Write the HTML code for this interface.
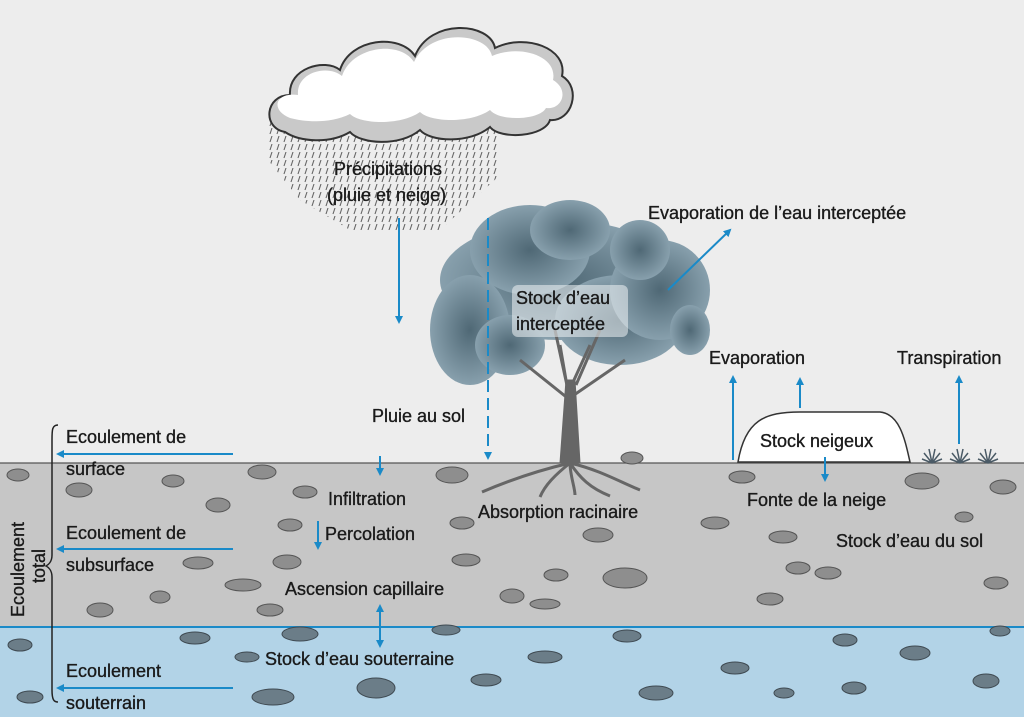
<!DOCTYPE html>
<html><head><meta charset="utf-8"><style>
body{margin:0;width:1024px;height:717px;overflow:hidden;background:#ededed}
svg{display:block}
text{font-family:"Liberation Sans",sans-serif;font-size:18px;fill:#1a1a1a;stroke:#1a1a1a;stroke-width:0.35}
</style></head><body>
<svg width="1024" height="717" viewBox="0 0 1024 717">
<defs>
<marker id="a" markerWidth="8" markerHeight="8" refX="6" refY="4" orient="auto" markerUnits="userSpaceOnUse"><path d="M0,0 L8,4 L0,8z" fill="#1a8ac8"/></marker>
<pattern id="rain" width="7" height="8" patternUnits="userSpaceOnUse"><path d="M6,0 L4,6" stroke="#666" stroke-width="1.1"/></pattern>
<radialGradient id="leaf" cx="50%" cy="50%" r="60%"><stop offset="0" stop-color="#4f6875"/><stop offset="1" stop-color="#93abb8"/></radialGradient>
</defs>
<rect width="1024" height="717" fill="#ededed"/>
<rect y="463" width="1024" height="164" fill="#c6c6c6"/>
<line x1="0" y1="463" x2="1024" y2="463" stroke="#555" stroke-width="1.2"/>
<rect y="627" width="1024" height="90" fill="#b2d3e7"/>
<line x1="0" y1="627" x2="1024" y2="627" stroke="#1a8ac8" stroke-width="2"/>
<g fill="#8e8e8e" stroke="#555" stroke-width="1">
<ellipse cx="18" cy="475" rx="11" ry="6"/><ellipse cx="173" cy="481" rx="11" ry="6"/><ellipse cx="79" cy="490" rx="13" ry="7"/><ellipse cx="262" cy="472" rx="14" ry="7"/><ellipse cx="305" cy="492" rx="12" ry="6"/><ellipse cx="218" cy="505" rx="12" ry="7"/><ellipse cx="290" cy="525" rx="12" ry="6"/><ellipse cx="198" cy="563" rx="15" ry="6"/><ellipse cx="160" cy="597" rx="10" ry="6"/><ellipse cx="100" cy="610" rx="13" ry="7"/><ellipse cx="243" cy="585" rx="18" ry="6"/><ellipse cx="270" cy="610" rx="13" ry="6"/><ellipse cx="287" cy="562" rx="14" ry="7"/><ellipse cx="452" cy="475" rx="16" ry="8"/><ellipse cx="462" cy="523" rx="12" ry="6"/><ellipse cx="466" cy="560" rx="14" ry="6"/><ellipse cx="512" cy="596" rx="12" ry="7"/><ellipse cx="632" cy="458" rx="11" ry="6"/><ellipse cx="742" cy="477" rx="13" ry="6"/><ellipse cx="922" cy="481" rx="17" ry="8"/><ellipse cx="1003" cy="487" rx="13" ry="7"/><ellipse cx="715" cy="523" rx="14" ry="6"/><ellipse cx="964" cy="517" rx="9" ry="5"/><ellipse cx="598" cy="535" rx="15" ry="7"/><ellipse cx="783" cy="537" rx="14" ry="6"/><ellipse cx="798" cy="568" rx="12" ry="6"/><ellipse cx="625" cy="578" rx="22" ry="10"/><ellipse cx="828" cy="573" rx="13" ry="6"/><ellipse cx="996" cy="583" rx="12" ry="6"/><ellipse cx="770" cy="599" rx="13" ry="6"/><ellipse cx="545" cy="604" rx="15" ry="5"/><ellipse cx="556" cy="575" rx="12" ry="6"/>
</g>
<g fill="#6b7d88" stroke="#3f4a52" stroke-width="1">
<ellipse cx="20" cy="645" rx="12" ry="6"/><ellipse cx="195" cy="638" rx="15" ry="6"/><ellipse cx="300" cy="634" rx="18" ry="7"/><ellipse cx="247" cy="657" rx="12" ry="5"/><ellipse cx="30" cy="697" rx="13" ry="6"/><ellipse cx="273" cy="697" rx="21" ry="8"/><ellipse cx="376" cy="688" rx="19" ry="10"/><ellipse cx="486" cy="680" rx="15" ry="6"/><ellipse cx="446" cy="630" rx="14" ry="5"/><ellipse cx="545" cy="657" rx="17" ry="6"/><ellipse cx="627" cy="636" rx="14" ry="6"/><ellipse cx="656" cy="693" rx="17" ry="7"/><ellipse cx="735" cy="668" rx="14" ry="6"/><ellipse cx="854" cy="688" rx="12" ry="6"/><ellipse cx="845" cy="640" rx="12" ry="6"/><ellipse cx="915" cy="653" rx="15" ry="7"/><ellipse cx="986" cy="681" rx="13" ry="7"/><ellipse cx="1000" cy="631" rx="10" ry="5"/><ellipse cx="784" cy="693" rx="10" ry="5"/>
</g>
<path d="M268,115 L495,105 L500,175 L440,230 L350,230 L300,200 L268,160z" fill="url(#rain)"/>
<path d="M285,132 C262,128 265,95 290,95 C288,68 325,58 340,70 C350,38 400,33 415,56 C430,18 490,22 495,48 C525,33 568,48 562,76 C582,88 572,122 550,120 C545,137 500,140 490,127 C470,144 430,142 420,130 C400,147 360,144 350,132 C330,144 300,142 285,132z" fill="#c9c9c9" stroke="#333" stroke-width="2"/>
<path d="M290,118 C270,110 275,92 298,95 C296,72 328,64 342,76 C352,46 400,40 414,62 C430,28 487,32 492,56 C520,44 558,56 553,80 C570,90 562,110 546,108 C540,120 500,122 490,110 C470,124 430,122 420,112 C400,126 360,124 350,114 C330,124 305,122 290,118z" fill="#fff"/>
<path d="M738,462 C745,420 765,412 800,412 L880,412 C900,414 905,440 910,462z" fill="#fff" stroke="#333" stroke-width="1.5"/>
<g stroke="#4a5a66" stroke-width="1.5" fill="none">
<path d="M932,463 l-8,-10 M932,463 l-3,-14 M932,463 l3,-14 M932,463 l8,-10 M932,463 l-10,-4 M932,463 l10,-4"/>
<path d="M960,463 l-8,-10 M960,463 l-3,-14 M960,463 l3,-14 M960,463 l8,-10 M960,463 l-10,-4 M960,463 l10,-4"/>
<path d="M988,463 l-8,-10 M988,463 l-3,-14 M988,463 l3,-14 M988,463 l8,-10 M988,463 l-10,-4 M988,463 l10,-4"/>
</g>
<g fill="url(#leaf)">
<ellipse cx="560" cy="280" rx="120" ry="60"/><ellipse cx="470" cy="330" rx="40" ry="55"/><ellipse cx="530" cy="250" rx="60" ry="45"/><ellipse cx="620" cy="320" rx="65" ry="45"/><ellipse cx="660" cy="290" rx="50" ry="50"/><ellipse cx="570" cy="230" rx="40" ry="30"/><ellipse cx="510" cy="345" rx="35" ry="30"/><ellipse cx="640" cy="250" rx="30" ry="30"/><ellipse cx="690" cy="330" rx="20" ry="25"/>
</g>
<g fill="#666" stroke="#666">
<path d="M566,380 L560,345 M574,380 L590,345 M570,400 L520,360 M574,395 L625,360 M568,390 L555,330 M576,385 L600,330" stroke-width="3" fill="none"/>
<path d="M560,463 L580,463 L575,380 L566,380z"/>
<path d="M570,463 C540,470 510,480 482,492 M570,463 C555,475 545,485 540,497 M570,463 C580,478 590,488 610,496 M570,463 C600,470 620,482 640,490 M570,463 C570,475 575,488 575,495" stroke-width="3" fill="none"/>
</g>
<rect x="512" y="285" width="116" height="52" rx="6" fill="#eef2f4" opacity="0.55"/>
<g stroke="#1a8ac8" stroke-width="2" fill="none" marker-end="url(#a)">
<line x1="399" y1="218" x2="399" y2="322"/>
<line x1="488" y1="218" x2="488" y2="458" stroke-dasharray="12,6"/>
<line x1="380" y1="456" x2="380" y2="474"/>
<line x1="318" y1="521" x2="318" y2="548"/>
<line x1="668" y1="290" x2="730" y2="230"/>
<line x1="733" y1="460" x2="733" y2="377"/>
<line x1="800" y1="408" x2="800" y2="379"/>
<line x1="959" y1="444" x2="959" y2="377"/>
<line x1="825" y1="457" x2="825" y2="480"/>
<line x1="233" y1="454" x2="58" y2="454"/>
<line x1="233" y1="549" x2="58" y2="549"/>
<line x1="233" y1="688" x2="58" y2="688"/>
<line x1="380" y1="608" x2="380" y2="645" marker-end="none"/>
</g>
<path d="M380,604 L376,612 L384,612z M380,648 L376,640 L384,640z" fill="#1a8ac8"/>
<path d="M58,425 C52,425 52,430 52,440 L52,555 C52,562 48,565 46,566 C48,567 52,570 52,577 L52,690 C52,700 54,702 58,702" stroke="#222" stroke-width="1.5" fill="none"/>
<text transform="translate(24,617) rotate(-90)" font-size="19">Ecoulement</text>
<text transform="translate(45,583) rotate(-90)" font-size="19">total</text>
<text x="66" y="443">Ecoulement de</text>
<text x="66" y="475">surface</text>
<text x="66" y="539">Ecoulement de</text>
<text x="66" y="571">subsurface</text>
<text x="66" y="677">Ecoulement</text>
<text x="66" y="709">souterrain</text>
<text x="334" y="175">Précipitations</text>
<text x="327" y="201">(pluie et neige)</text>
<text x="372" y="422">Pluie au sol</text>
<text x="328" y="505">Infiltration</text>
<text x="325" y="540">Percolation</text>
<text x="285" y="595">Ascension capillaire</text>
<text x="265" y="665">Stock d’eau souterraine</text>
<text x="478" y="518">Absorption racinaire</text>
<text x="516" y="304">Stock d’eau</text>
<text x="516" y="330">interceptée</text>
<text x="648" y="219">Evaporation de l’eau interceptée</text>
<text x="709" y="364">Evaporation</text>
<text x="897" y="364">Transpiration</text>
<text x="760" y="447">Stock neigeux</text>
<text x="747" y="506">Fonte de la neige</text>
<text x="836" y="547">Stock d’eau du sol</text>
</svg>
</body></html>
